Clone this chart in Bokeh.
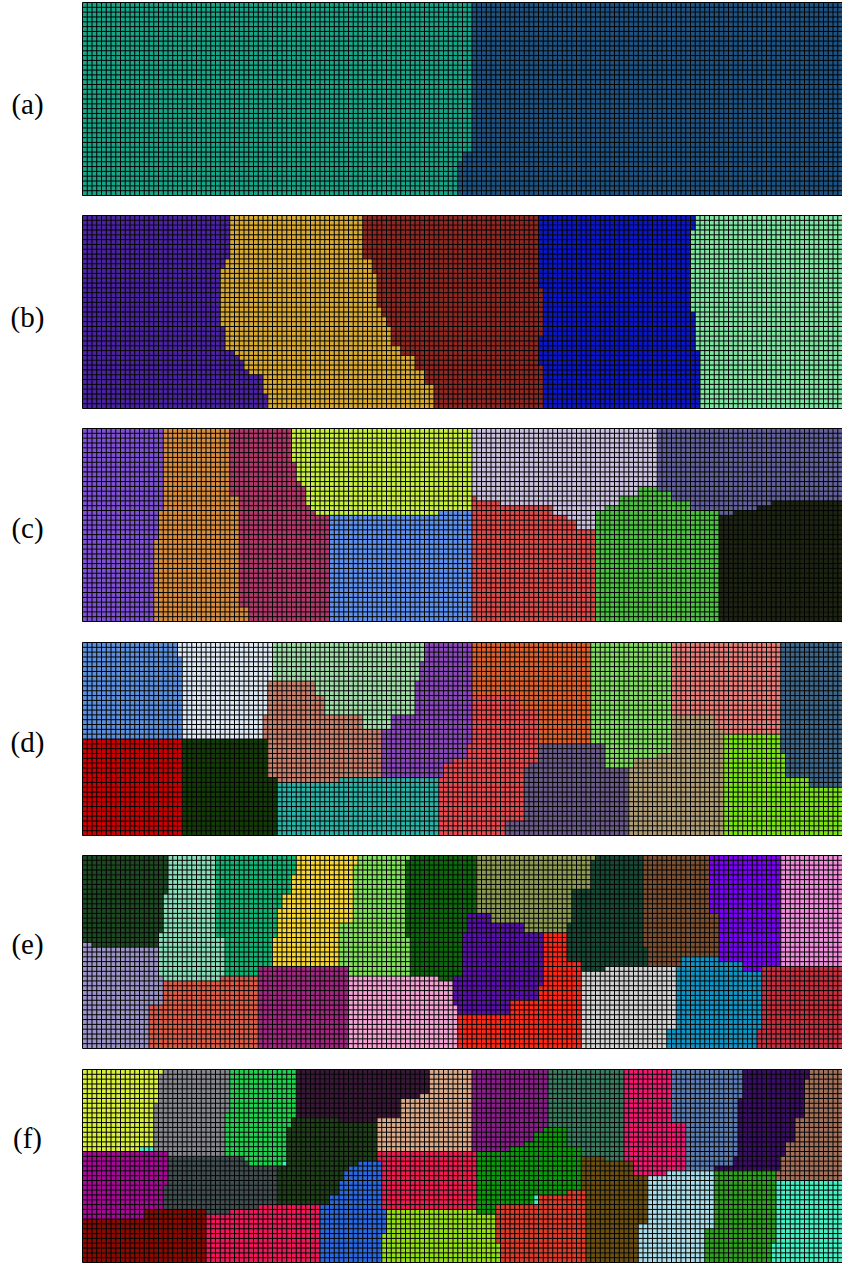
import numpy as np
from bokeh.plotting import figure
from bokeh.models import Range1d
from bokeh.embed import file_html
from bokeh.resources import INLINE
from bokeh.core.properties import value

# ---------------- data: partitions of a 160 x 40 cell grid ----------------
NCOLS, NROWS = 160, 40
labels = ["(a)", "(b)", "(c)", "(d)", "(e)", "(f)"]

# each panel: colours in priority order; region k is polygon k (cell units,
# x to the right, y downwards); the last colour fills the remaining cells
a_colors = ["#17a487", "#1d5383"]
a_regions = [
    [(0, 0), (81.7, 0), (81.7, 31), (80.0, 31), (80.0, 33), (79.4, 33), (79.4, 40), (0, 40)],
]

b_colors = ["#4b23a2", "#d9aa32", "#8f2722", "#0b16c6", "#7fe4a2"]
b_regions = [
    [(0, 0), (31.2, 0), (31.2, 9), (30.2, 9), (30.2, 10.8), (29.3, 10.8), (29.3, 23.5),
     (30.2, 23.5), (30.2, 27.6), (32.3, 27.6), (32.3, 29), (33.3, 29), (33.3, 30.1),
     (34.3, 30.1), (34.3, 31.8), (35.3, 31.8), (35.3, 33.5), (38.4, 33.5), (38.4, 36.6),
     (39.3, 36.6), (39.3, 40), (0, 40)],
    [(0, 0), (59.2, 0), (59.2, 9), (61, 9), (61, 11.8), (62, 11.8), (62, 19), (63, 19),
     (63, 20.8), (64, 20.8), (64, 23.5), (65.1, 23.5), (65.1, 26.6), (67.1, 26.6),
     (67.1, 29.4), (70, 29.4), (70, 32.5), (72.2, 32.5), (72.2, 34.9), (74, 34.9),
     (74, 40), (0, 40)],
    [(0, 0), (96.3, 0), (96.3, 14.9), (97.3, 14.9), (97.3, 24.6), (96.3, 24.6), (96.3, 31.5),
     (97.3, 31.5), (97.3, 40), (0, 40)],
    [(0, 0), (129.1, 0), (129.1, 3.2), (128.2, 3.2), (128.2, 19.7), (129.2, 19.7),
     (129.2, 27.7), (130.2, 27.7), (130.2, 40), (0, 40)],
]

c_colors = ["#7f50d6", "#d88c3c", "#b0386a", "#c8f03c", "#5b8ff0",
            "#cbc0e0", "#dc4a4a", "#62609c", "#4cc040", "#1e2412"]
c_regions = [
    [(0, 0), (17.5, 0), (17.5, 17.3), (16.5, 17.3), (16.5, 23.2), (14.6, 23.2), (14.6, 40), (0, 40)],
    [(0, 0), (31.5, 0), (31.5, 14.2), (32.6, 14.2), (32.6, 37), (35.3, 37), (35.3, 40), (0, 40)],
    [(0, 0), (43.6, 0), (43.6, 7.3), (44.6, 7.3), (44.6, 10.8), (46.1, 10.8), (46.1, 12.5),
     (46.8, 12.5), (46.8, 15.9), (47.7, 15.9), (47.7, 17.3), (48.7, 17.3), (48.7, 18.3),
     (52.5, 18.3), (52.5, 40), (0, 40)],
    [(0, 0), (82, 0), (82, 17.3), (74.8, 17.3), (74.8, 18.3), (0, 18.3)],
    [(0, 0), (82, 0), (82, 40), (0, 40)],
    [(82, 0), (120.7, 0), (120.7, 12.1), (116.7, 12.1), (116.7, 14.2), (113.2, 14.2),
     (113.2, 16.3), (110.1, 16.3), (110.1, 17.3), (108.5, 17.3), (108.5, 21.1), (104, 21.1),
     (104, 19.4), (101.9, 19.4), (101.9, 18.3), (99.3, 18.3), (99.3, 16.3), (88.5, 16.3),
     (88.5, 15.2), (83.4, 15.2), (83.4, 14.2), (82, 14.2)],
    [(82, 0), (108.5, 0), (108.5, 40), (82, 40)],
    [(120.7, 0), (160, 0), (160, 15.2), (145.4, 15.2), (145.4, 16.3), (141.7, 16.3),
     (141.7, 17.3), (136.6, 17.3), (136.6, 18.3), (133.6, 18.3), (133.6, 17.3), (128.5, 17.3),
     (128.5, 15.2), (124.5, 15.2), (124.5, 13.2), (120.7, 13.2)],
    [(108.5, 0), (133.6, 0), (133.6, 40), (108.5, 40)],
]

d_colors = ["#5b90e0", "#cc0000", "#dde8f5", "#a0dca8", "#143c08", "#c8806c", "#2ab4a8",
            "#8a48bc", "#e0602c", "#6a5a88", "#e84a50", "#80dc60", "#e87c78", "#3e6688",
            "#7ae414", "#b09c74"]
d_regions = [
    [(0, 0), (19.6, 0), (19.6, 3.2), (20.6, 3.2), (20.6, 20.1), (0, 20.1)],
    [(0, 20.1), (20.6, 20.1), (20.6, 40), (0, 40)],
    [(19.6, 0), (40, 0), (40, 8), (39.5, 8), (39.5, 15.2), (38.4, 15.2), (38.4, 20.1), (19.6, 20.1)],
    [(40, 0), (72.3, 0), (72.3, 4.2), (70.7, 4.2), (70.7, 8), (69.6, 8), (69.6, 15.2),
     (65.1, 15.2), (65.1, 18), (59.4, 18), (59.4, 15.2), (50.8, 15.2), (50.8, 11.1),
     (48.7, 11.1), (48.7, 8), (40, 8)],
    [(20.6, 20.1), (39.5, 20.1), (39.5, 28), (41.3, 28), (41.3, 40), (20.6, 40)],
    [(38.1, 8), (63.5, 8), (63.5, 28), (54.3, 28), (54.3, 29), (38.1, 29)],
    [(41.3, 28), (75.3, 28), (75.3, 40), (41.3, 40)],
    [(63.5, 0), (82.4, 0), (82.4, 21.1), (81.4, 21.1), (81.4, 24.2), (78.3, 24.2), (78.3, 24.9),
     (76.3, 24.9), (76.3, 28), (63.5, 28)],
    [(82.4, 0), (107.5, 0), (107.5, 21.1), (95.7, 21.1), (95.7, 14.2), (91.6, 14.2),
     (91.6, 11.1), (82.4, 11.1)],
    [(95.7, 21.1), (110.5, 21.1), (110.5, 25.9), (114.6, 25.9), (114.6, 40), (89.5, 40),
     (89.5, 37), (92.6, 37), (92.6, 25.9), (93.6, 25.9), (93.6, 24.9), (95.7, 24.9)],
    [(75.3, 11.1), (96.4, 11.1), (96.4, 40), (75.3, 40)],
    [(107.5, 0), (124.4, 0), (124.4, 23.2), (121.3, 23.2), (121.3, 23.9), (116.2, 23.9),
     (116.2, 25.9), (110.5, 25.9), (110.5, 21.1), (107.5, 21.1)],
    [(124.4, 0), (146.8, 0), (146.8, 19), (134.6, 19), (134.6, 18), (132.6, 18), (132.6, 15.2),
     (124.4, 15.2)],
    [(146.8, 0), (160, 0), (160, 29.7), (153, 29.7), (153, 28), (147.9, 28), (147.9, 23.2),
     (146.8, 23.2)],
    [(134.6, 19), (160, 19), (160, 40), (134.6, 40)],
]

e_colors = ["#1e4a22", "#9c94c8", "#88dcb8", "#dc5c48", "#10b474", "#a02880", "#f8d830",
            "#80e05c", "#5a10aa", "#0c6a0c", "#f4a4d4", "#ff2818", "#8c9a52", "#164a36",
            "#d2d2d2", "#7c5030", "#1094c4", "#7c00f8", "#f08cdc", "#c83040"]
e_regions = [
    [(0, 0), (18.4, 0), (18.4, 8.3), (17.1, 8.3), (17.1, 16), (16, 16), (16, 19), (2.4, 19),
     (2.4, 18.3), (0, 18.3)],
    [(0, 18), (15.7, 18), (15.7, 25.2), (17.1, 25.2), (17.1, 31.1), (14.3, 31.1), (14.3, 40), (0, 40)],
    [(15.5, 0), (28.4, 0), (28.4, 17.3), (30.5, 17.3), (30.5, 24.9), (29.4, 24.9), (29.4, 25.9),
     (15.5, 25.9)],
    [(14.3, 24.9), (37.5, 24.9), (37.5, 40), (14.3, 40)],
    [(28.4, 0), (45.5, 0), (45.5, 4.2), (43.6, 4.2), (43.6, 8), (42.4, 8), (42.4, 11.1),
     (41.5, 11.1), (41.5, 17.3), (40.4, 17.3), (40.4, 23.2), (37.5, 23.2), (37.5, 24.9),
     (28.4, 24.9)],
    [(37.5, 23.2), (56.4, 23.2), (56.4, 40), (37.5, 40)],
    [(40, 0), (58.5, 0), (58.5, 2.5), (57.5, 2.5), (57.5, 8.3), (56.6, 8.3), (56.6, 14.2),
     (54.5, 14.2), (54.5, 22.1), (53.6, 22.1), (53.6, 23.2), (40, 23.2)],
    [(53, 0), (68.7, 0), (68.7, 1.5), (67.6, 1.5), (67.6, 17.3), (69.5, 17.3), (69.5, 25.2),
     (53, 25.2)],
    [(80.7, 12.1), (85.6, 12.1), (85.6, 14.2), (92.6, 14.2), (92.6, 16.3), (96.8, 16.3),
     (96.8, 27), (95.8, 27), (95.8, 30.1), (90.5, 30.1), (90.5, 33.2), (78.9, 33.2),
     (78.9, 31.1), (78.5, 31.1), (78.5, 25.2), (79.6, 25.2), (79.6, 15.9), (80.7, 15.9)],
    [(67, 0), (82.6, 0), (82.6, 12.1), (80.7, 12.1), (80.7, 25.9), (74.7, 25.9), (74.7, 25.2),
     (67, 25.2)],
    [(56.4, 23.2), (78.5, 23.2), (78.5, 31.1), (78.9, 31.1), (78.9, 33.2), (79.3, 33.2),
     (79.3, 40), (56.4, 40)],
    [(79.3, 33.2), (90.5, 33.2), (90.5, 30.1), (95.8, 30.1), (95.8, 27), (96.8, 27), (96.8, 16.3),
     (101.8, 16.3), (101.8, 22.1), (104.6, 22.1), (104.6, 40), (79.3, 40)],
    [(82.6, 0), (107.7, 0), (107.7, 1.4), (106.7, 1.4), (106.7, 7.3), (103.5, 7.3), (103.5, 14.2),
     (102.5, 14.2), (102.5, 16.3), (82.6, 16.3)],
    [(101.8, 0), (117.9, 0), (117.9, 19.4), (118.9, 19.4), (118.9, 23.2), (109.8, 23.2),
     (109.8, 23.9), (101.8, 23.9)],
    [(104.6, 23.2), (124.9, 23.2), (124.9, 35.9), (122.8, 35.9), (122.8, 40), (104.6, 40)],
    [(117.9, 0), (131.9, 0), (131.9, 12.1), (134, 12.1), (134, 21.4), (125.6, 21.4), (125.6, 23.2),
     (118.9, 23.2), (118.9, 19.4), (117.9, 19.4)],
    [(122.8, 21.4), (134, 21.4), (134, 22.1), (138.9, 22.1), (138.9, 23.9), (142.8, 23.9),
     (142.8, 35.9), (141.8, 35.9), (141.8, 40), (122.8, 40)],
    [(131.9, 0), (147, 0), (147, 23.2), (142.8, 23.2), (142.8, 23.9), (138.9, 23.9), (138.9, 22.1),
     (134, 22.1), (134, 12.1), (131.9, 12.1)],
    [(147, 0), (160, 0), (160, 23.2), (147, 23.2)],
]

f_colors = ["#d8f038", "#86868f", "#a80898", "#22d050", "#3a1838", "#dcaa88", "#1f4018",
            "#404e50", "#8a0a00", "#f0185a", "#2a68e0", "#8a1e8a", "#f01c50", "#0a9a0a",
            "#94e014", "#3a7c62", "#dc3c28", "#6c5010", "#f01870", "#5a7cb4", "#a8dce8",
            "#3a0e62", "#a4705a", "#30a020", "#44f0c4"]
f_regions = [
    [(0, 0), (17.1, 0), (17.1, 1), (16.3, 1), (16.3, 7), (15.4, 7), (15.4, 15.6), (12.2, 15.6),
     (12.2, 16.6), (4.1, 16.6), (4.1, 17.3), (0, 17.3)],
    [(15.4, 0), (31.5, 0), (31.5, 9.4), (30.5, 9.4), (30.5, 18.3), (18.5, 18.3), (18.5, 16.6),
     (15.4, 16.6)],
    [(0, 16.6), (18.5, 16.6), (18.5, 24.4), (17.5, 24.4), (17.5, 29.4), (13.3, 29.4),
     (13.3, 31.4), (0, 31.4)],
    [(30, 0), (45.5, 0), (45.5, 10.4), (44.5, 10.4), (44.5, 12.5), (43.4, 12.5), (43.4, 19.4),
     (42.4, 19.4), (42.4, 20.4), (35.4, 20.4), (35.4, 19.4), (34, 19.4), (34, 18.3), (30, 18.3)],
    [(45.5, 0), (72.6, 0), (72.6, 4.6), (70.8, 4.6), (70.8, 6.3), (66.6, 6.3), (66.6, 10.4),
     (61.7, 10.4), (61.7, 11.4), (54.3, 11.4), (54.3, 10.4), (45.5, 10.4)],
    [(61.7, 0), (81.8, 0), (81.8, 16.6), (69.8, 16.6), (69.8, 17.3), (61.7, 17.3)],
    [(43.4, 10.4), (61.7, 10.4), (61.7, 18.7), (58.5, 18.7), (58.5, 20), (56.4, 20), (56.4, 21.4),
     (54.7, 21.4), (54.7, 23.5), (53.6, 23.5), (53.6, 26.3), (52.2, 26.3), (52.2, 27.7),
     (49.8, 27.7), (49.8, 28.3), (41.3, 28.3), (41.3, 20.4), (43.4, 20.4)],
    [(17.5, 18.3), (41.3, 18.3), (41.3, 28.3), (37.5, 28.3), (37.5, 29.4), (31.5, 29.4),
     (31.5, 30.4), (26.2, 30.4), (26.2, 29.4), (17.5, 29.4)],
    [(0, 29.4), (26.2, 29.4), (26.2, 40), (0, 40)],
    [(26.2, 28.3), (49.6, 28.3), (49.6, 40), (26.2, 40)],
    [(49.4, 18.7), (63.4, 18.7), (63.4, 29.4), (64.5, 29.4), (64.5, 33.9), (62.7, 33.9),
     (62.7, 40), (49.4, 40)],
    [(81.8, 0), (97.9, 0), (97.9, 12.5), (96.8, 12.5), (96.8, 13.5), (94.7, 13.5), (94.7, 14.6),
     (92.6, 14.6), (92.6, 16.3), (89.8, 16.3), (89.8, 17.3), (81.8, 17.3)],
    [(61.7, 16.6), (83.5, 16.6), (83.5, 29.4), (61.7, 29.4)],
    [(83.5, 12.5), (101.8, 12.5), (101.8, 15.6), (104.6, 15.6), (104.6, 24.6), (101.8, 24.6),
     (101.8, 26.3), (94.7, 26.3), (94.7, 28.3), (86.7, 28.3), (86.7, 30.4), (83.5, 30.4)],
    [(62.7, 29.4), (86.7, 29.4), (86.7, 36.3), (87.7, 36.3), (87.7, 40), (62.7, 40)],
    [(97.9, 0), (113.7, 0), (113.7, 19.4), (109.8, 19.4), (109.8, 18.3), (104.6, 18.3),
     (104.6, 15.6), (101.8, 15.6), (101.8, 12.5), (97.9, 12.5)],
    [(86.7, 28.3), (95.8, 28.3), (95.8, 26.3), (101.8, 26.3), (101.8, 24.6), (105.6, 24.6),
     (105.6, 40), (87.7, 40), (87.7, 36.3), (86.7, 36.3)],
    [(104.6, 18.3), (109.8, 18.3), (109.8, 19.4), (115.8, 19.4), (115.8, 22.5), (118.9, 22.5),
     (118.9, 32.5), (116.8, 32.5), (116.8, 40), (104.6, 40)],
    [(113.7, 0), (123.9, 0), (123.9, 11.5), (126.7, 11.5), (126.7, 21.4), (122.8, 21.4),
     (122.8, 22.5), (113.7, 22.5)],
    [(123.9, 0), (138.6, 0), (138.6, 6.3), (137.9, 6.3), (137.9, 18), (136.8, 18), (136.8, 20.4),
     (133, 20.4), (133, 21.4), (123.9, 21.4)],
    [(118.9, 21.4), (133, 21.4), (133, 33.5), (130.9, 33.5), (130.9, 40), (116.8, 40),
     (116.8, 32.5), (118.9, 32.5)],
    [(133, 0), (153, 0), (153, 2.5), (151.9, 2.5), (151.9, 10.4), (149.8, 10.4), (149.8, 14.6),
     (148.1, 14.6), (148.1, 18.3), (147, 18.3), (147, 21.4), (133, 21.4)],
    [(146, 0), (160, 0), (160, 23.5), (146, 23.5)],
    [(130.9, 20.4), (146, 20.4), (146, 35.6), (144.9, 35.6), (144.9, 40), (130.9, 40)],
]

panel_colors = [a_colors, b_colors, c_colors, d_colors, e_colors, f_colors]
panel_regions = [a_regions, b_regions, c_regions, d_regions, e_regions, f_regions]

# ---------------- layout (pixels) ----------------
W, H = 842, 1265
left_px = 82.0                 # left edge of the grids inside the figure
ppc_x = (W - left_px) / NCOLS  # pixels per cell
ppc_y = 193.0 / NROWS
panel_tops_px = [2.0, 215.0, 428.0, 642.0, 855.0, 1069.0]
label_dy_px = [101.0, 101.0, 99.0, 99.0, 88.0, 68.0]
label_x_px = 27.0
H_data = H / ppc_y
x0 = -left_px / ppc_x


def inside(px, py, poly):
    poly = np.asarray(poly, float)
    xs, ys = poly[:, 0], poly[:, 1]
    xj, yj = np.roll(xs, 1), np.roll(ys, 1)
    res = np.zeros(px.shape, bool)
    for xa, ya, xb, yb in zip(xs, ys, xj, yj):
        cond = (ya > py) != (yb > py)
        with np.errstate(divide="ignore", invalid="ignore"):
            xint = (xb - xa) * (py - ya) / (yb - ya) + xa
        res ^= cond & (px < xint)
    return res


def rasterize(regions):
    cx, cy = np.meshgrid(np.arange(NCOLS) + 0.5, np.arange(NROWS) + 0.5)
    lab = np.full((NROWS, NCOLS), len(regions))
    taken = np.zeros(lab.shape, bool)
    for k, poly in enumerate(regions):
        m = inside(cx, cy, poly) & ~taken
        lab[m] = k
        taken |= m
    return lab


p = figure(width=W, height=H, x_range=Range1d(x0, NCOLS), y_range=Range1d(0, H_data),
           output_backend="svg", toolbar_location=None, min_border=0,
           x_axis_location=None, y_axis_location=None)
p.grid.visible = False
p.outline_line_color = None
p.background_fill_color = "white"
p.border_fill_color = "white"

for k in range(6):
    top = H_data - panel_tops_px[k] / ppc_y
    lab = rasterize(panel_regions[k])
    cols = panel_colors[k]
    L, R, T, B, C = [], [], [], [], []
    for r in range(NROWS):
        row = lab[r]
        start = 0
        for c in range(1, NCOLS + 1):
            if c == NCOLS or row[c] != row[start]:
                L.append(start); R.append(c)
                T.append(top - r); B.append(top - r - 1)
                C.append(cols[row[start]])
                start = c
    p.quad(left=L, right=R, top=T, bottom=B, fill_color=C, line_color=None)

    # cell grid
    vx = np.arange(NCOLS + 1)
    hy = top - np.arange(NROWS + 1)
    x0s = list(vx) + [0] * (NROWS + 1)
    x1s = list(vx) + [NCOLS] * (NROWS + 1)
    y0s = [top] * (NCOLS + 1) + list(hy)
    y1s = [top - NROWS] * (NCOLS + 1) + list(hy)
    p.segment(x0=x0s, y0=y0s, x1=x1s, y1=y1s, line_color="black", line_width=1.0)

    ly = H_data - (panel_tops_px[k] + label_dy_px[k]) / ppc_y
    lx = x0 + label_x_px / ppc_x
    p.text(x=[lx], y=[ly], text=[labels[k]], text_align="center", text_baseline="middle",
           text_font=value("Liberation Serif"), text_font_size="29px", text_color="black")

open("out.html", "w").write(file_html(p, INLINE))
